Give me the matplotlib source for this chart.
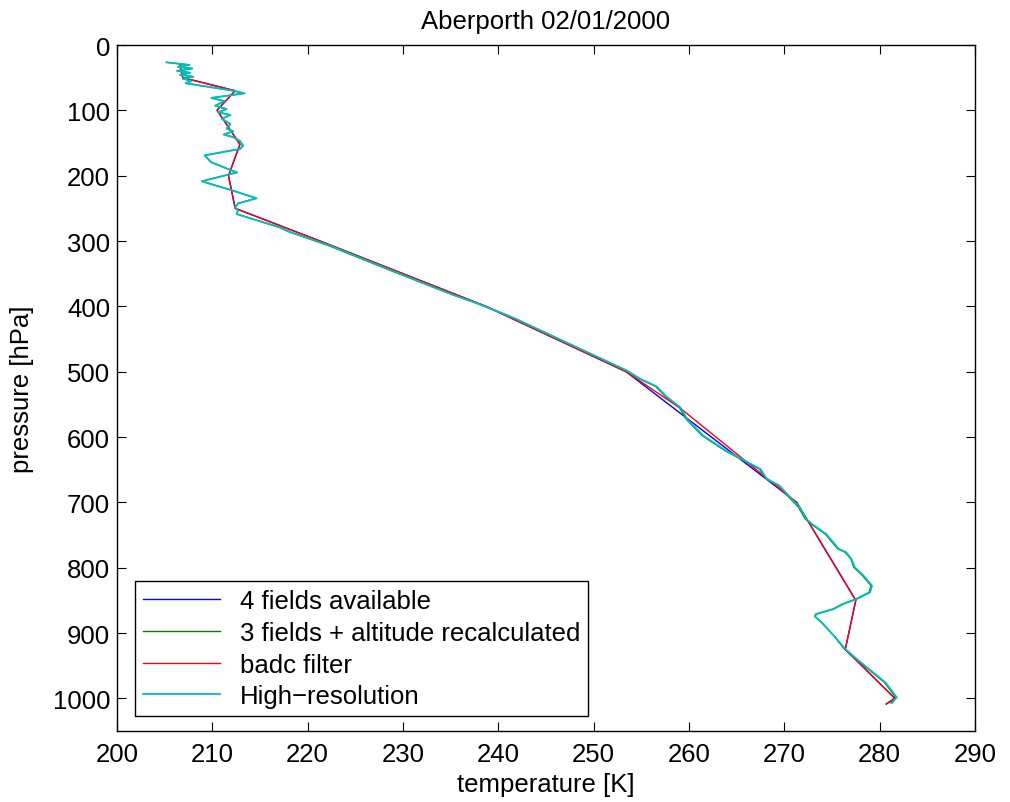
import matplotlib
matplotlib.use("Agg")
import matplotlib.pyplot as plt

plt.rcParams['font.family'] = ['Liberation Sans', 'DejaVu Sans']

# standard levels (4 fields available)
std_p = [30, 50, 70, 100, 152, 200, 250, 300, 400, 500, 700, 850, 925, 1000, 1008.7]
std_t = [206.6, 206.9, 212.4, 210.5, 212.9, 211.7, 212.4, 221.3, 238.7, 253.4, 271.3, 277.5, 276.4, 281.6, 280.7]

# badc filter
badc_p = [30, 50, 70, 100, 152, 200, 250, 300, 400, 500, 556, 700, 850, 925, 1000, 1008.7]
badc_t = [206.6, 206.9, 212.4, 210.5, 212.9, 211.7, 212.4, 221.3, 238.7, 253.4, 259.1, 271.3, 277.5, 276.4, 281.6, 280.7]

# high resolution sounding
hr_p = [26.5, 30.5, 33.5, 36, 39.5, 42.5, 45.5, 48.5, 51.5, 55, 58.5, 70, 74, 81, 86, 93, 98,
        103, 107, 113, 121, 128, 132, 137, 141, 147, 154, 159, 169, 179.5, 191, 195, 208.6,
        223, 234.7, 242.4, 248.5, 253.6, 258.7, 279, 285.7, 307, 348, 381, 395, 411.7, 419,
        470, 498.5, 511, 522.5, 539, 554.6, 572.5, 598, 621, 649, 664, 674.5, 700, 707.6,
        725.5, 733, 748.5, 771, 776.5, 786.7, 799.5, 812, 827.6, 837.8, 848, 855.6, 863.3,
        871, 874.5, 883.7, 904, 924.5, 939.8, 960, 975.5, 990.8, 998.5, 1007]
hr_t = [205.2, 207.6, 206.4, 207.9, 206.3, 207.7, 206.6, 208.0, 206.9, 207.8, 207.2, 212.2, 213.4,
        209.9, 211.3, 210.3, 211.5, 210.6, 211.9, 211.0, 211.9, 211.5, 212.2, 211.2, 212.2, 212.9,
        213.25, 212.9, 209.2, 209.9, 211.85, 212.6, 208.9, 212.2, 214.65, 212.7, 212.4, 212.7,
        212.55, 217.1, 218.1, 222.3, 229.3, 235.0, 237.7, 240.6, 241.8, 249.3, 253.5, 254.9,
        256.6, 257.7, 259.1, 259.8, 261.5, 263.9, 267.5, 268.15, 269.5, 271.1, 271.6, 272.3,
        272.9, 274.4, 275.7, 276.5, 277.05, 277.4, 278.3, 279.2, 279.0, 277.6, 276.2, 275.2,
        273.4, 273.2, 273.9, 275.2, 276.4, 277.6, 279.3, 280.6, 281.4, 281.8, 281.3]

# 3 fields + altitude recalculated (nearly identical to high-res)
rec_t = [205.2, 207.6, 206.4, 207.9, 206.3, 207.7, 206.6, 208.0, 206.9, 207.8, 207.2, 212.2, 213.3,
         209.9, 211.3, 210.3, 211.5, 210.6, 211.9, 211.0, 211.9, 211.5, 212.2, 211.2, 212.2, 212.9,
         213.2, 212.9, 209.2, 209.9, 211.85, 212.6, 208.9, 212.2, 214.6, 212.7, 212.4, 212.7,
         212.55, 217.0, 218.0, 222.2, 229.2, 235.0, 237.7, 240.6, 241.8, 249.3, 253.5, 254.8,
         256.5, 257.6, 259.0, 259.7, 261.4, 263.8, 267.4, 268.1, 269.4, 271.0, 271.5, 272.2,
         272.8, 274.3, 275.6, 276.4, 277.0, 277.3, 278.2, 279.1, 278.9, 277.5, 276.1, 275.1,
         273.3, 273.2, 273.9, 275.2, 276.3, 277.5, 279.2, 280.5, 281.3, 281.7, 281.2]

fig = plt.figure(figsize=(10.1, 8.03), dpi=100)
ax = fig.add_axes([0.1158, 0.0884, 0.8495, 0.8543])

ax.plot(std_t, std_p, color=(0, 0, 1), lw=1.0, label='4 fields available')
ax.plot(rec_t, hr_p, color=(0, 0.5, 0), lw=1.0, label='3 fields + altitude recalculated')
ax.plot(badc_t, badc_p, color=(1, 0, 0), lw=1.0, label='badc filter')
ax.plot(hr_t, hr_p, color=(0, 0.75, 0.75), lw=1.3, label='High\u2212resolution')

ax.set_xlim(200, 290)
ax.set_ylim(1050, 0)
ax.set_xticks(range(200, 291, 10))
ax.set_yticks(range(0, 1001, 100))
ax.tick_params(direction='in', length=6.5, width=0.8, top=True, right=True, labelsize=18.5)
ax.tick_params(axis='x', pad=8)
ax.tick_params(axis='y', pad=5)
for s in ax.spines.values():
    s.set_linewidth(1.0)

ax.set_title('Aberporth 02/01/2000', fontsize=18.5, pad=12)
ax.set_xlabel('temperature [K]', fontsize=18.5, labelpad=4)
ax.set_ylabel('pressure [hPa]', fontsize=18.5, labelpad=13)

leg = ax.legend(loc='lower left', bbox_to_anchor=(0.021, 0.022), borderaxespad=0,
                fontsize=18.5, fancybox=False, framealpha=1, edgecolor='black',
                handlelength=3.0, labelspacing=0.3, borderpad=0.3, handletextpad=0.8)
leg.get_frame().set_linewidth(1.0)

fig.savefig('out.png', dpi=100)
